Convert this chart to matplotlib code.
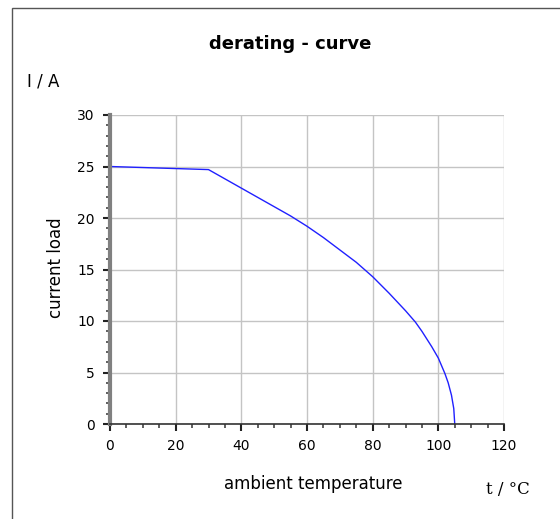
import matplotlib
matplotlib.use("Agg")
import matplotlib.pyplot as plt
from matplotlib.patches import Rectangle
from matplotlib.ticker import MultipleLocator

# values
temp = [0, 30, 35, 40, 45, 50, 55, 60, 65, 70, 75, 80, 85, 90, 93, 95,
        98, 100, 102, 103, 104, 104.7, 105]
current = [25.0, 24.7, 23.8, 22.9, 22.0, 21.1, 20.2, 19.2, 18.1, 16.9, 15.7,
           14.3, 12.7, 11.0, 9.9, 9.0, 7.5, 6.4, 4.9, 4.0, 2.8, 1.5, 0.0]

x_ticks = [0, 20, 40, 60, 80, 100, 120]
y_ticks = [0, 5, 10, 15, 20, 25, 30]

fig = plt.figure(figsize=(5.6, 5.19), dpi=100)

# light frame around the figure
fig.patches.append(Rectangle((12 / 560, -0.1), 1.2, 1 - 8 / 519 + 0.1,
                             transform=fig.transFigure, fill=False,
                             edgecolor="#555555", linewidth=1.0))

ax = fig.add_axes([110 / 560, 1 - 424 / 519, 394 / 560, 309 / 519])
ax.plot(temp, current, color="#2020ff", linewidth=1.0)

ax.set_xlim(0, 120)
ax.set_ylim(0, 30)
ax.set_xticks(x_ticks)
ax.set_yticks(y_ticks)
ax.xaxis.set_minor_locator(MultipleLocator(5))
ax.yaxis.set_minor_locator(MultipleLocator(1))

ax.grid(True, which="major", color="#c4c4c4", linewidth=1.0)
ax.set_axisbelow(True)

for side in ["top", "right"]:
    ax.spines[side].set_visible(False)
ax.spines["left"].set_color("#808080")
ax.spines["left"].set_linewidth(3)
ax.spines["bottom"].set_color("#333333")
ax.spines["bottom"].set_linewidth(1.2)

ax.tick_params(axis="both", which="major", direction="out", length=5,
               width=1.5, color="#222222", labelsize=10, pad=6)
ax.tick_params(axis="both", which="minor", direction="out", length=3,
               width=1.2, color="#444444")

fig.text(290 / 560, 1 - 44 / 519, "derating - curve", ha="center", va="center",
         fontsize=13, fontweight="bold")
fig.text(27 / 560, 1 - 82 / 519, "I / A", ha="left", va="center", fontsize=12)
fig.text(56 / 560, 1 - 268 / 519, "current load", ha="center", va="center",
         rotation=90, fontsize=12)
fig.text(313 / 560, 1 - 484 / 519, "ambient temperature", ha="center",
         va="center", fontsize=12)
fig.text(508 / 560, 1 - 489 / 519, "t / °C", ha="center", va="center",
         fontsize=12, family="DejaVu Serif")

fig.savefig("out.png", dpi=100)
